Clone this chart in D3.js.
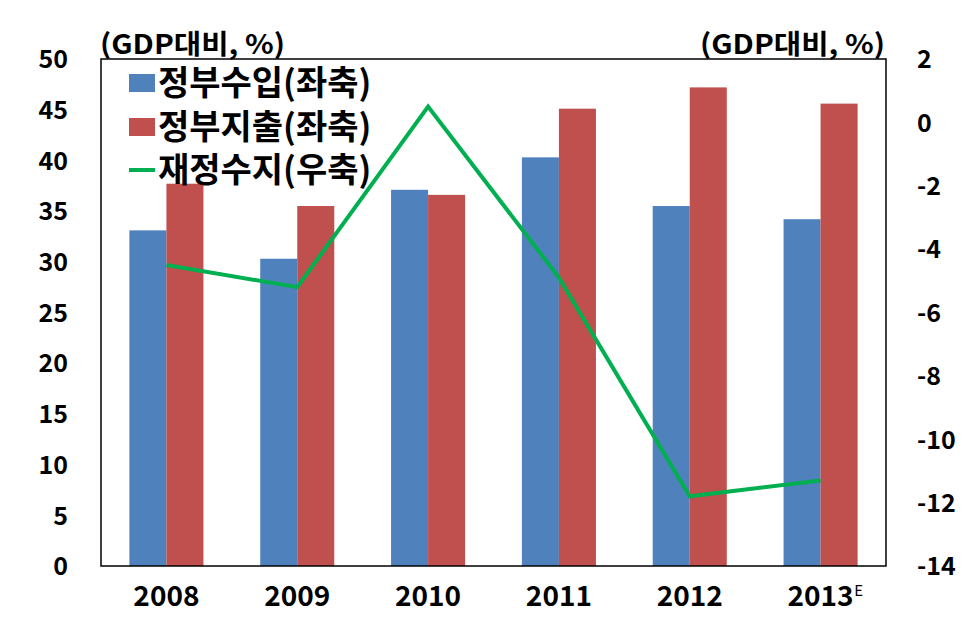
<!DOCTYPE html>
<html><head><meta charset="utf-8">
<script src="https://cdn.jsdelivr.net/npm/d3@7"></script>
<style>body{margin:0;background:#fff}svg{display:block}text{font-family:"Noto Sans CJK KR","Noto Sans",sans-serif;font-weight:bold;fill:#000}</style>
</head><body><svg id="c" width="977" height="639"></svg>
<script>
const years = ["2008","2009","2010","2011","2012","2013"];
const revenue = [33.1, 30.3, 37.1, 40.3, 35.5, 34.2];
const expenditure = [37.7, 35.5, 36.6, 45.1, 47.2, 45.6];
const balance = [-4.5, -5.2, 0.5, -4.9, -11.8, -11.3];
const leftTicks = [0,5,10,15,20,25,30,35,40,45,50];
const rightTicks = [2,0,-2,-4,-6,-8,-10,-12,-14];
const legendLabels = ["정부수입(좌축)","정부지출(좌축)","재정수지(우축)"];
const axisTitle = "(GDP대비, %)";

const svg = d3.select("#c");
const L=101, R=886, T=59, B=566;
const x = d3.scaleBand().domain(years).range([L,R]).paddingInner(0.434).paddingOuter(0.217);
const yL = d3.scaleLinear().domain([0,50]).range([B,T]);
const yR = d3.scaleLinear().domain([-14,2]).range([B,T]);
const bw = x.bandwidth()/2;

const g = svg.append("g");
g.selectAll("rect.rev").data(years).join("rect")
  .attr("x", d=>x(d)).attr("width", bw)
  .attr("y", (d,i)=>yL(revenue[i])).attr("height",(d,i)=>B-yL(revenue[i]))
  .attr("fill","#4F81BD");
g.selectAll("rect.exp").data(years).join("rect")
  .attr("x", d=>x(d)+bw).attr("width", bw)
  .attr("y", (d,i)=>yL(expenditure[i])).attr("height",(d,i)=>B-yL(expenditure[i]))
  .attr("fill","#C0504D");

const line = d3.line().x((d,i)=>x(years[i])+bw).y(d=>yR(d));
g.append("path").datum(balance).attr("d",line).attr("fill","none")
  .attr("stroke","#00B050").attr("stroke-width",4).attr("stroke-linejoin","miter");

svg.append("rect").attr("x",L).attr("y",T).attr("width",R-L).attr("height",B-T)
  .attr("fill","none").attr("stroke","#000").attr("stroke-width",1.5);

// left axis
const la = svg.append("g").attr("transform",`translate(${L},0)`)
  .call(d3.axisLeft(yL).tickValues(leftTicks).tickSize(0).tickPadding(33).tickFormat(d=>String(d)));
la.select(".domain").remove();
la.selectAll("text").attr("font-size",25).attr("dy","0.35em").style("font-family",null);
// right axis
const ra = svg.append("g").attr("transform",`translate(${R},0)`)
  .call(d3.axisRight(yR).tickValues(rightTicks).tickSize(0).tickPadding(31).tickFormat(d=>String(d)));
ra.select(".domain").remove();
ra.selectAll("text").attr("font-size",25).attr("dy","0.35em").style("font-family",null);
// x axis
const xa = svg.append("g").attr("transform",`translate(0,${B})`)
  .call(d3.axisBottom(x).tickSize(0).tickPadding(30));
xa.select(".domain").remove();
xa.selectAll("text").attr("font-size",28).attr("dy","0.35em").style("font-family",null);
svg.selectAll(".tick text").attr("fill","#000");
// superscript E
svg.append("text").attr("x", x("2013")+x.bandwidth()/2+38).attr("y",596)
  .attr("font-size",15).style("font-weight","normal").attr("text-anchor","middle").text("E");

// axis titles
svg.append("text").attr("x",100).attr("y",54).attr("font-size",27).attr("textLength",185).attr("lengthAdjust","spacingAndGlyphs").text(axisTitle);
svg.append("text").attr("x",700).attr("y",54).attr("font-size",27).attr("textLength",185).attr("lengthAdjust","spacingAndGlyphs").text(axisTitle);

// legend
const lg = svg.append("g");
const ly = [83,127,170];
lg.append("rect").attr("x",129).attr("y",ly[0]-9).attr("width",26).attr("height",18).attr("fill","#4F81BD");
lg.append("rect").attr("x",129).attr("y",ly[1]-9).attr("width",26).attr("height",18).attr("fill","#C0504D");
lg.append("line").attr("x1",129).attr("x2",155).attr("y1",ly[2]).attr("y2",ly[2]).attr("stroke","#00B050").attr("stroke-width",4);
legendLabels.forEach((t,i)=>{
  lg.append("text").attr("x",158).attr("y",ly[i]).attr("dy","0.36em").attr("font-size",34).text(t);
});
</script></body></html>
